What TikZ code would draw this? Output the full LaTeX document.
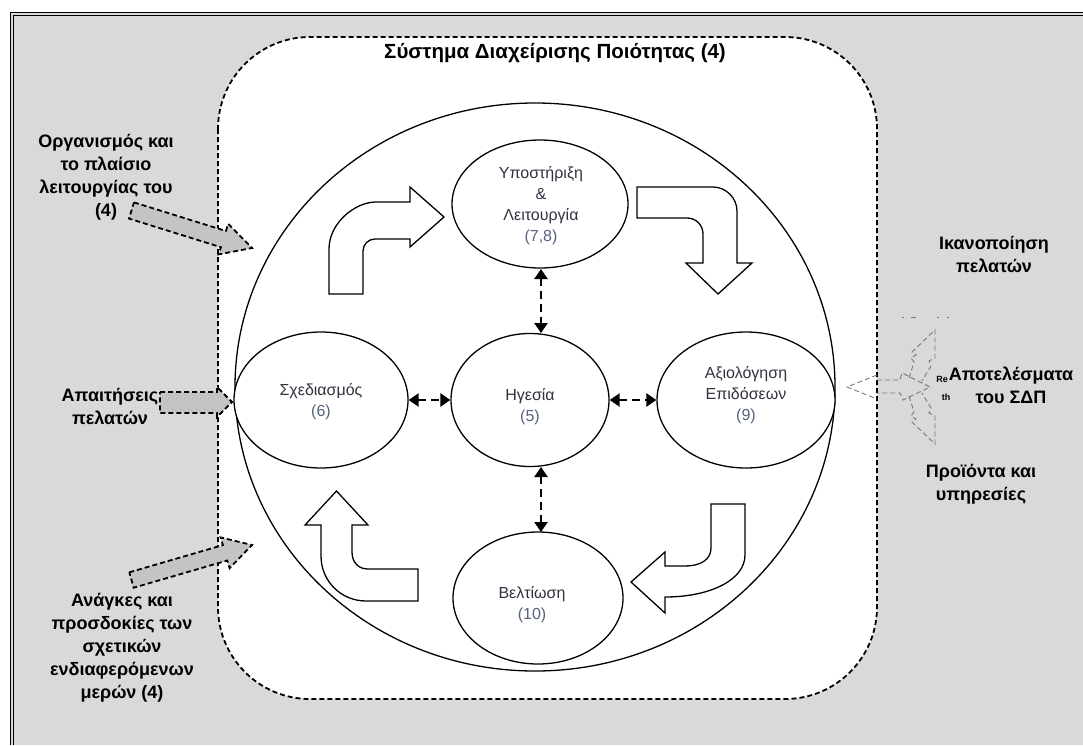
\documentclass[tikz,border=0pt]{standalone}
\usepackage{fontspec}
\setmainfont{Liberation Sans}
\usetikzlibrary{shapes.geometric,arrows.meta}
\definecolor{bg}{HTML}{D9D9D9}
\definecolor{agray}{HTML}{C4C4C4}
\definecolor{lbl}{HTML}{2F3440}
\definecolor{num}{HTML}{56637E}
\definecolor{ghost}{HTML}{7A7A7A}
\tikzset{
  outlbl/.style={font=\bfseries\fontsize{18}{23}\selectfont, align=center, inner sep=0pt, text=black},
  inlbl/.style={font=\fontsize{16}{21}\selectfont, align=center, text=lbl},
  bub/.style={draw, ellipse, inner sep=0pt, line width=1.3pt, fill=white},
  blk/.style={draw, fill=white, line width=1.3pt, line join=miter},
  gblk/.style={draw, fill=agray, line width=1.8pt, dash pattern=on 5pt off 3pt},
  dlink/.style={line width=2.6pt, dash pattern=on 8pt off 5pt,
    {Triangle[length=10pt,width=13pt]}-{Triangle[length=10pt,width=13pt]}},
  gdash/.style={draw=ghost, line width=0.9pt, dash pattern=on 5pt off 3pt},
  dashbox/.style={draw, fill=white, line width=1.8pt, dash pattern=on 5pt off 3pt}
}
\begin{document}
\begin{tikzpicture}[x=1pt,y=-1pt]
\useasboundingbox (0,0) rectangle (1083,745);
\fill[white] (0,0) rectangle (1083,745);
\fill[bg] (11,13) rectangle (1083,745);
\draw[line width=1.3pt] (10.5,745) -- (10.5,12.5) -- (1083,12.5);
\draw[line width=0.8pt] (13.5,745) -- (13.5,15.5) -- (1083,15.5);

% system boundary
\draw[dashbox, rounded corners=92pt] (218,37) rectangle (877,699);
\node[font=\bfseries\fontsize{20.5}{24}\selectfont] (title) at (555,53) {Σύστημα Διαχείρισης Ποιότητας (4)};

% big circle
\node[draw, ellipse, inner sep=0pt, line width=1.3pt, minimum width=600pt, minimum height=568pt] (big) at (535,387) {};

% curved block arrows
\draw[blk] (329,294) -- (329,249) .. controls (329,223) and (355,202) .. (376,202)
  -- (410,202) -- (410,187) -- (444,217) -- (410,247) -- (410,239) -- (375,239)
  .. controls (368.4,239) and (363,244.4) .. (363,251) -- (363,294) -- cycle;
\draw[blk] (637,187) -- (713,187) .. controls (726,187) and (737,198) .. (737,211)
  -- (737,263) -- (752,263) -- (718,294) -- (686,263) -- (703,263) -- (703,234)
  .. controls (703,225) and (696,218) .. (687,218) -- (637,218) -- cycle;
\draw[blk] (711,504) -- (745,504) -- (745,555) .. controls (745,580) and (710,597) .. (665,597)
  -- (665,613) -- (631,582) -- (665,552) -- (665,566) -- (685,566)
  .. controls (700,566) and (711,560) .. (711,548) -- cycle;
\draw[blk] (418,601) -- (366,601) .. controls (341,601) and (321,581) .. (321,556)
  -- (321,525) -- (305,525) -- (336.5,491) -- (368,525) -- (352,525) -- (352,552)
  .. controls (352,562) and (358,569) .. (368,569) -- (418,569) -- cycle;

% process bubbles
\node[bub, minimum width=176pt, minimum height=128pt] (sup) at (540,204) {};
\node[bub, minimum width=158pt, minimum height=133pt] (lead) at (530,400) {};
\node[bub, minimum width=174pt, minimum height=136pt] (plan) at (321,400) {};
\node[bub, minimum width=178pt, minimum height=136pt] (perf) at (746,400) {};
\node[bub, minimum width=170pt, minimum height=132pt] (impr) at (538,598) {};

\node[inlbl] at (541,206) {Υποστήριξη\\\&\\Λειτουργία\\\textcolor{num}{(7,8)}};
\node[inlbl] at (530,407) {Ηγεσία\\\textcolor{num}{(5)}};
\node[inlbl] at (321,402) {Σχεδιασμός\\\textcolor{num}{(6)}};
\node[inlbl] at (746,395) {Αξιολόγηση\\Επιδόσεων\\\textcolor{num}{(9)}};
\node[inlbl] at (532,605) {Βελτίωση\\\textcolor{num}{(10)}};

% dashed double arrows
\coordinate (ua) at (541,269);
\coordinate (ub) at (541,333);
\coordinate (da) at (541,467);
\coordinate (db) at (541,532);
\draw[dlink] (ua) -- (ub);
\draw[dlink] (da) -- (db);
\draw[dlink] (plan.east) -- (lead.west);
\draw[dlink] (lead.east) -- (perf.west);

% outside labels, left
\node[outlbl] (org) at (106,177) {Οργανισμός και\\το πλαίσιο\\λειτουργίας του\\(4)};
\node[outlbl] (req) at (110,406) {Απαιτήσεις\\πελατών};
\node[outlbl] (needs) at (122,648) {Ανάγκες και\\προσδοκίες των\\σχετικών\\ενδιαφερόμενων\\μερών (4)};

% gray input arrows
\draw[gblk] (134.0,202.4) -- (225.9,231.0) -- (228.2,223.8) -- (252,248) -- (218.6,254.4)
  -- (220.9,247.2) -- (129.0,218.6) -- cycle;
\draw[gblk] (160,392) -- (217,392) -- (217,387) -- (232,402) -- (217,417) -- (217,413)
  -- (160,413) -- cycle;
\draw[gblk] (129.3,572.3) -- (222.9,545.1) -- (220.6,537.4) -- (252,545) -- (229.6,568.2)
  -- (227.3,560.5) -- (133.7,587.7) -- cycle;

% outputs, right
\draw[gdash] (877,375) -- (847,387) -- (877,399);
\draw[gdash] (877,380) -- (900,380) -- (902,373) -- (930,387) -- (903,400) -- (900,393) -- (877,393);
\draw[gdash] (909,378) -- (914,362) -- (911,358) -- (916,355) -- (912,352) -- (935,330)
  -- (935,358) -- (929,361) -- (931,366) -- (922,381);
\draw[gdash] (909,396) -- (914,412) -- (911,416) -- (916,419) -- (912,422) -- (935,444)
  -- (935,416) -- (929,413) -- (931,408) -- (922,393);
\draw[ghost, line width=0.9pt] (902,317) -- (904,317) (911,317) -- (916,317)
  (937,317) -- (939,317) (947,317) -- (949,317);
\node[font=\bfseries\fontsize{9}{9}\selectfont, inner sep=0pt] (re) at (942,379) {Re};
\node[font=\bfseries\fontsize{9}{9}\selectfont, inner sep=0pt] (th) at (946,397) {th};

\node[outlbl] (sat) at (994,254) {Ικανοποίηση\\πελατών};
\node[outlbl] (res) at (1011,385) {Αποτελέσματα\\του ΣΔΠ};
\node[outlbl] (prod) at (981,484) {Προϊόντα και\\υπηρεσίες};
\end{tikzpicture}
\end{document}
